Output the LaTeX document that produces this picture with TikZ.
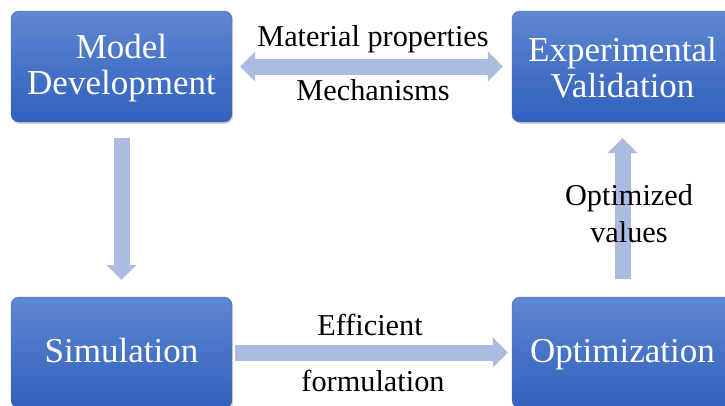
\documentclass[tikz,border=0pt]{standalone}
\usepackage{fontspec}
\setmainfont{Liberation Serif}
\usetikzlibrary{shadows,arrows.meta}
\definecolor{boxtop}{RGB}{95,134,209}
\definecolor{boxbot}{RGB}{48,97,189}
\definecolor{boxedge}{RGB}{70,105,175}
\definecolor{arrowfill}{RGB}{172,187,226}

% a strut that pushes two-line box text slightly down
\newcommand{\toppad}{\rule{0pt}{27pt}}

\begin{document}
\begin{tikzpicture}[x=1pt,y=-1pt,
  stage/.style={rounded corners=8pt, minimum width=221pt, minimum height=111pt,
    top color=boxtop, bottom color=boxbot, draw=boxedge, line width=0.4pt,
    text=white, font=\fontsize{35}{35.5}\selectfont, align=center, inner sep=0pt,
    drop shadow={shadow xshift=1.2pt, shadow yshift=-1.8pt, opacity=.35}},
  oneline/.style={align=none, text height=19pt, text depth=0pt},
  flow/.style={draw=arrowfill, line width=16pt,
    -{Triangle[length=15pt,width=30pt,line width=0pt]}},
  twoway/.style={draw=arrowfill, line width=16pt,
    {Triangle[length=15pt,width=30pt,line width=0pt]}-{Triangle[length=15pt,width=30pt,line width=0pt]}},
  lbl/.style={font=\fontsize{30.3}{37}\selectfont, text=black, inner sep=0pt, anchor=base}]

\clip (0,0) rectangle (725,405);
\useasboundingbox (0,0) rectangle (725,405);

% the four stages
\node[stage] (model) at (121.5,66.5)  {\toppad Model\\Development};
\node[stage] (exp)   at (622.5,66.5)  {\toppad Experimental\\Validation};
\node[stage, oneline] (sim) at (121.5,352.5) {Simulation};
\node[stage, oneline] (opt) at (622.5,352.5) {Optimization};

% block arrows between the stages
\draw[twoway, shorten <=8pt, shorten >=9pt] (model.east) -- (exp.west);
\draw[flow, shorten <=16pt, shorten >=17pt] (model.south) -- (sim.north);
\draw[flow, shorten <=3pt, shorten >=4pt] (sim.east) -- (opt.west);
\draw[flow, shorten <=18pt, shorten >=16pt] (opt.north) -- (exp.south);

% arrow labels
\node[lbl] (matprop) at (373,46)  {Material properties};
\node[lbl] (mech)    at (373,100) {Mechanisms};
\node[lbl] (eff)     at (370,335) {Efficient};
\node[lbl] (form)    at (373,391) {formulation};
\node[lbl, align=center] (optval) at (629,242) {Optimized\\values};

\end{tikzpicture}
\end{document}
